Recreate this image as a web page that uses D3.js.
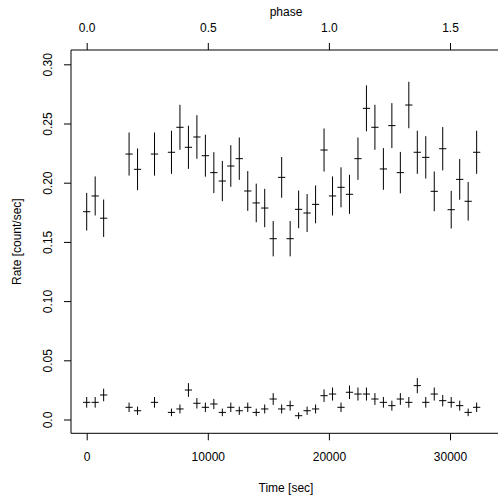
<!DOCTYPE html>
<html><head><meta charset="utf-8">
<script src="https://cdn.jsdelivr.net/npm/d3@7"></script>
<style>body{margin:0;background:#fff}svg{display:block}text{font-family:"Liberation Sans",Arial,Helvetica,sans-serif;font-size:12px;fill:#000}</style>
</head><body><svg id="c" width="498" height="498"></svg>
<script>
const times = [0,700,1400,3500,4200,5600,7000,7700,8400,9100,9800,10500,11200,11900,12600,13300,14000,14700,15400,16100,16800,17500,18200,18900,19600,20300,21000,21700,22400,23100,23800,24500,25200,25900,26600,27300,28000,28700,29400,30100,30800,31500,32200];
const highRate = [0.1755,0.1888,0.170,0.2242,0.2113,0.2242,0.2257,0.2468,0.2299,0.2386,0.2228,0.2085,0.2014,0.2141,0.2203,0.193,0.1829,0.1786,0.1527,0.2045,0.1527,0.1775,0.1744,0.1817,0.2276,0.1888,0.1961,0.1902,0.2203,0.2628,0.2468,0.2116,0.2482,0.2085,0.2656,0.2257,0.2214,0.1927,0.2287,0.1772,0.2028,0.1843,0.2257];
const highErr = [0.0159,0.0165,0.0158,0.0182,0.0176,0.0182,0.0182,0.019,0.0182,0.0184,0.0177,0.0173,0.017,0.0176,0.0179,0.0168,0.0163,0.0162,0.0149,0.0172,0.0149,0.0159,0.016,0.016,0.0182,0.0165,0.0169,0.0165,0.0179,0.0194,0.019,0.0176,0.019,0.0175,0.0196,0.0182,0.0179,0.0168,0.0183,0.0159,0.0172,0.0163,0.0182];
const lowRate = [0.0145,0.0145,0.0207,0.0103,0.0074,0.0145,0.006,0.0089,0.0249,0.0137,0.0103,0.0131,0.006,0.0103,0.0074,0.0103,0.006,0.0089,0.0173,0.0089,0.0117,0.0032,0.0074,0.0089,0.0201,0.0215,0.0103,0.023,0.0215,0.0215,0.0173,0.0145,0.0117,0.0173,0.0145,0.0286,0.0145,0.0215,0.0159,0.0145,0.0117,0.006,0.0103];
const lowErr = [0.0045,0.0045,0.0053,0.004,0.0035,0.0045,0.0032,0.0038,0.0058,0.0044,0.004,0.0043,0.0032,0.004,0.0035,0.004,0.0032,0.0038,0.005,0.0038,0.0042,0.0028,0.0035,0.0038,0.0053,0.0055,0.004,0.0057,0.0055,0.0055,0.005,0.0045,0.0042,0.005,0.0045,0.0064,0.0045,0.0055,0.0048,0.0045,0.0042,0.0032,0.004];
const binHalf = 300;
const timeTicks = [0,10000,20000,30000];
const phaseTicks = [0,0.5,1.0,1.5];
const rateTicks = [0,0.05,0.10,0.15,0.20,0.25,0.30];
const period = 20000;

const svg = d3.select("#c");
const L = 71, T = 50, B = 433.3, R = 498;
const x = d3.scaleLinear().domain([0,30000]).range([86.7,450.0]);
const xp = d3.scaleLinear().domain([0,30000/period]).range([86.7,450.0]);
const y = d3.scaleLinear().domain([0,0.30]).range([419.5,64.3]);

// frame (left, top, bottom)
svg.append("path").attr("d",`M${R},${T}H${L}V${B}H${R}`).attr("fill","none").attr("stroke","#000").attr("stroke-width",1);

// bottom axis
const gb = svg.append("g").attr("transform",`translate(0,${B})`)
  .call(d3.axisBottom(x).tickValues(timeTicks).tickFormat(d3.format("d")).tickSize(7).tickPadding(12));
gb.select(".domain").remove();
// top axis
const gt = svg.append("g").attr("transform",`translate(0,${T})`)
  .call(d3.axisTop(xp).tickValues(phaseTicks).tickFormat(d3.format(".1f")).tickSize(7).tickPadding(11));
gt.select(".domain").remove();
// left axis
const gl = svg.append("g").attr("transform",`translate(${L},0)`)
  .call(d3.axisLeft(y).tickValues(rateTicks).tickFormat(d=>d===0?"0.0":d3.format(".2f")(d)).tickSize(7).tickPadding(0));
gl.select(".domain").remove();
gl.selectAll(".tick text").attr("transform",null).attr("text-anchor","middle").attr("x",0).attr("dy",null)
  .each(function(d){ d3.select(this).attr("transform",`translate(-23,0) rotate(-90)`).attr("dy","0.35em"); });
svg.selectAll(".tick text").style("font-size","12px").style("font-family",'"Liberation Sans",Arial,sans-serif');
svg.selectAll(".tick line").attr("stroke","#000");

// titles
svg.append("text").attr("x",286).attr("y",492).attr("text-anchor","middle").text("Time [sec]");
svg.append("text").attr("x",286).attr("y",16).attr("text-anchor","middle").text("phase");
svg.append("text").attr("transform",`translate(21,${(T+B)/2}) rotate(-90)`).attr("text-anchor","middle").text("Rate [count/sec]");

function bars(rates, errs){
  const g = svg.append("g").attr("stroke","#000").attr("stroke-width",1);
  times.forEach((t,i)=>{
    g.append("line").attr("x1",x(t)).attr("x2",x(t)).attr("y1",y(rates[i]-errs[i])).attr("y2",y(rates[i]+errs[i]));
    g.append("line").attr("x1",x(t-binHalf)).attr("x2",x(t+binHalf)).attr("y1",y(rates[i])).attr("y2",y(rates[i]));
  });
}
bars(highRate, highErr);
bars(lowRate, lowErr);
</script></body></html>
